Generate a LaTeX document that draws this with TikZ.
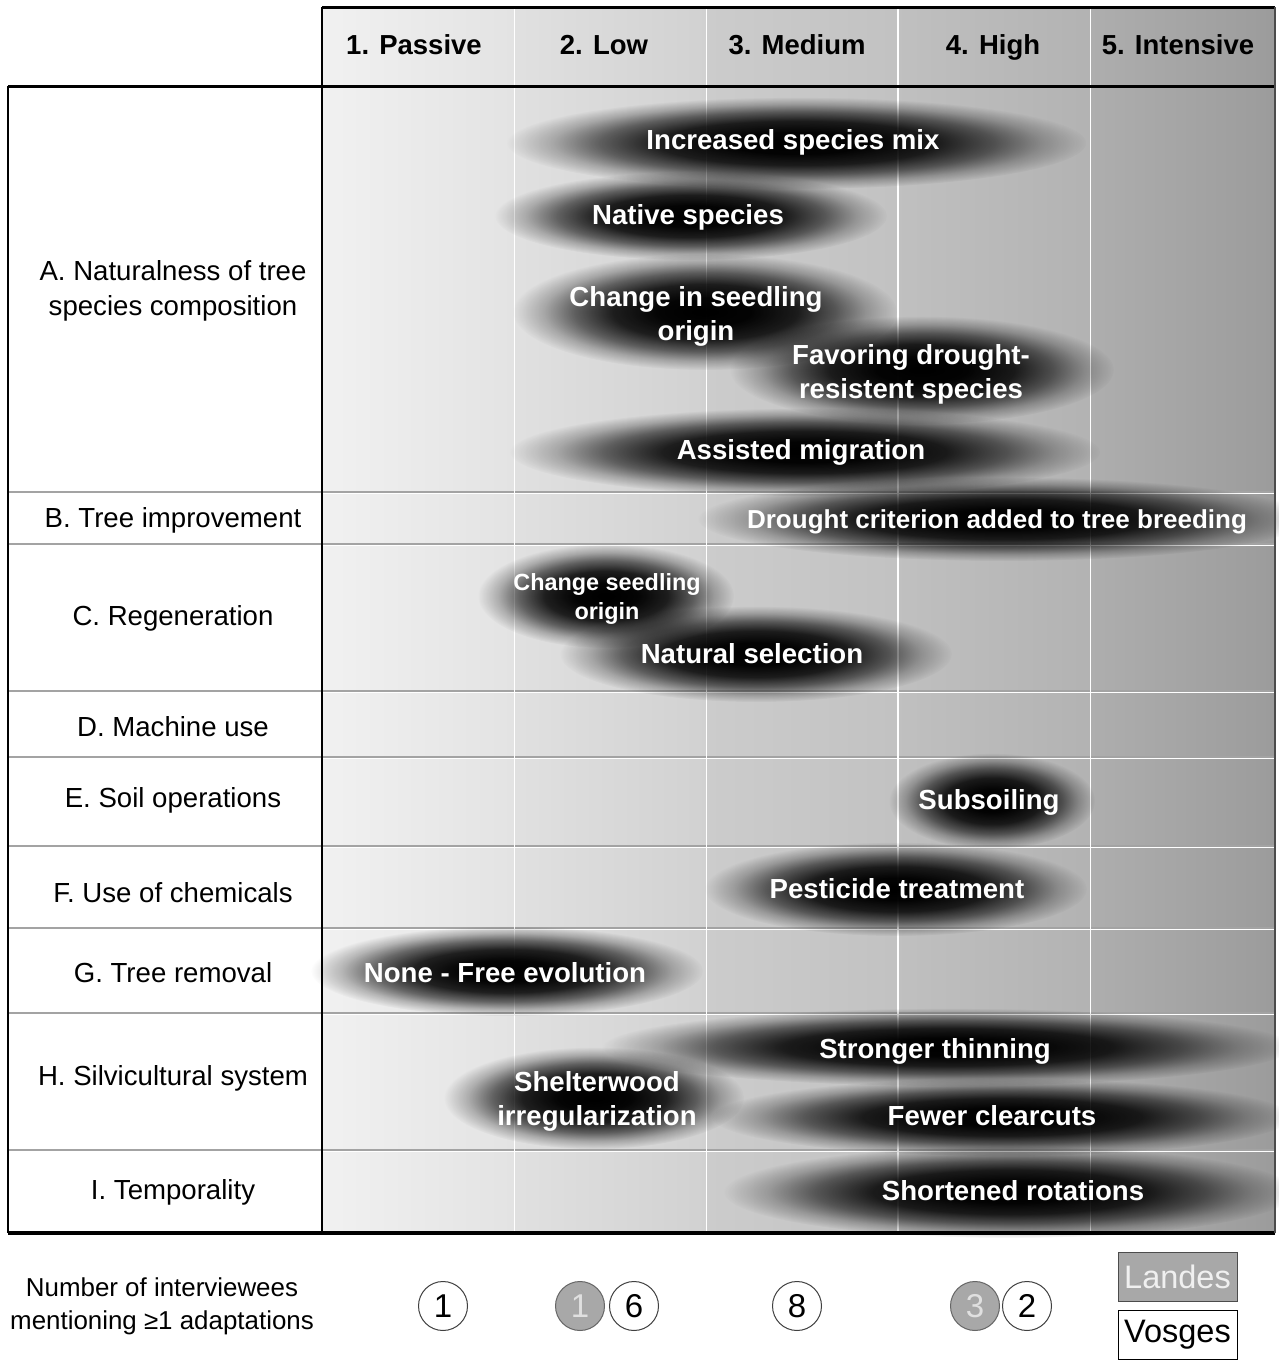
\documentclass[tikz,border=0pt]{standalone}
\usepackage{fontspec}
\setmainfont{Liberation Sans}
\usetikzlibrary{fadings}
\pgfdeclareradialshading{blobsh}{\pgfpointorigin}{color(0bp)=(white); color(6bp)=(white!98!black); color(12bp)=(white!86!black); color(17bp)=(white!56!black); color(21bp)=(white!24!black); color(25bp)=(black); color(50bp)=(black)}
\pgfdeclarefading{blobfade}{\pgfuseshading{blobsh}}
\definecolor{legendgray}{gray}{0.66}
\definecolor{rowline}{gray}{0.64}
\tikzset{
  blob/.style={fill=black, path fading=blobfade},
  hdr/.style={font=\fontsize{27.5pt}{33pt}\selectfont\bfseries, inner sep=0pt, anchor=base},
  lbl/.style={font=\fontsize{27.6pt}{35pt}\selectfont, align=center, inner sep=0pt},
  btxt/.style={text=white, font=\fontsize{27.6pt}{34pt}\selectfont\bfseries, align=center, inner sep=0pt},
  bsmall/.style={text=white, font=\fontsize{23.4pt}{29pt}\selectfont\bfseries, align=center, inner sep=0pt},
  numv/.style={circle, draw=black!75, fill=white, line width=1pt, minimum size=49pt, inner sep=0pt, font=\fontsize{33pt}{33pt}\selectfont},
  numl/.style={numv, fill=legendgray, draw=black!60, text=white!88!black},
  legbox/.style={rectangle, minimum width=119pt, minimum height=49pt, inner sep=0pt, line width=1pt, font=\fontsize{32.5pt}{32.5pt}\selectfont},
  frame/.style={line width=1.5pt, black},
  thick frame/.style={line width=3pt, black},
  rowsep/.style={line width=1.4pt, rowline},
  rowhi/.style={line width=1.2pt, white},
  colsep/.style={line width=1.5pt, white}
}
\begin{document}
\begin{tikzpicture}[x=1pt,y=-1pt]
\useasboundingbox[fill=white] (0,0) rectangle (1279,1360);
% background column shadings
\shade[left color={rgb,1:red,0.945;green,0.945;blue,0.945}, right color={rgb,1:red,0.890;green,0.890;blue,0.890}] (322,7) rectangle (514.5,1233);
\shade[left color={rgb,1:red,0.880;green,0.880;blue,0.880}, right color={rgb,1:red,0.820;green,0.820;blue,0.820}] (514.5,7) rectangle (706.5,1233);
\shade[left color={rgb,1:red,0.800;green,0.800;blue,0.800}, right color={rgb,1:red,0.760;green,0.760;blue,0.760}] (706.5,7) rectangle (898,1233);
\shade[left color={rgb,1:red,0.752;green,0.752;blue,0.752}, right color={rgb,1:red,0.700;green,0.700;blue,0.700}] (898,7) rectangle (1090.5,1233);
\shade[left color={rgb,1:red,0.682;green,0.682;blue,0.682}, right color={rgb,1:red,0.610;green,0.610;blue,0.610}] (1090.5,7) rectangle (1275,1233);
% row separators
\foreach \yy in {492,544,691,757,846,928,1013,1150}{
  \draw[rowsep] (8,\yy) -- (1275,\yy);
  \draw[rowhi] (323,\yy+1.6) -- (1274,\yy+1.6);
}
% column separators
\foreach \xx in {514.5,706.5,898,1090.5}{
  \draw[colsep] (\xx,8) -- (\xx,1232);
}
% blobs
\fill[blob] (797,143) ellipse [x radius=290pt, y radius=46pt];
\fill[blob] (691,216) ellipse [x radius=196pt, y radius=44pt];
\fill[blob] (705,312) ellipse [x radius=192pt, y radius=58pt];
\fill[blob] (922,370) ellipse [x radius=192pt, y radius=54pt];
\fill[blob] (805,452) ellipse [x radius=295pt, y radius=44pt];
\fill[blob] (1003,519) ellipse [x radius=305pt, y radius=42pt];
\fill[blob] (606,596) ellipse [x radius=128pt, y radius=52pt];
\fill[blob] (756,654) ellipse [x radius=196pt, y radius=48pt];
\fill[blob] (992,801) ellipse [x radius=103pt, y radius=48pt];
\fill[blob] (896,889) ellipse [x radius=191pt, y radius=47pt];
\fill[blob] (507,971) ellipse [x radius=196pt, y radius=45pt];
\fill[blob] (948,1047) ellipse [x radius=345pt, y radius=39pt];
\fill[blob] (594,1098) ellipse [x radius=150pt, y radius=51pt];
\fill[blob] (1002,1117) ellipse [x radius=290pt, y radius=39pt];
\fill[blob] (1010,1192) ellipse [x radius=286pt, y radius=46pt];
% frame
\draw[thick frame] (322,7) -- (1275,7);
\draw[thick frame] (8,86) -- (1275,86);
\draw[line width=3.5pt] (8,1233) -- (1275,1233);
\draw[frame] (8,86) -- (8,1233);
\draw[frame] (322,7) -- (322,1233);
\draw[line width=1.5pt, black!70] (1275,7) -- (1275,1233);
% header
\node[hdr] (h1) at (414,54) {1. Passive};
\node[hdr] (h2) at (604,54) {2. Low};
\node[hdr] (h3) at (797,54) {3. Medium};
\node[hdr] (h4) at (993,54) {4. High};
\node[hdr] (h5) at (1178,54) {5. Intensive};
% row labels
\node[lbl] (la) at (173,290.5) {A. Naturalness of tree\\species composition};
\node[lbl] (lb) at (173,520.5) {B. Tree improvement};
\node[lbl] (lc) at (173,618.5) {C. Regeneration};
\node[lbl] (ld) at (173,727) {D. Machine use};
\node[lbl] (le) at (173,800.5) {E. Soil operations};
\node[lbl] (lf) at (173,893) {F. Use of chemicals};
\node[lbl] (lg) at (173,973) {G. Tree removal};
\node[lbl] (lh) at (173,1078.5) {H. Silvicultural system};
\node[lbl] (li) at (173,1192.5) {I. Temporality};
% blob texts
\node[btxt] (t1) at (793,142) {Increased species mix};
\node[btxt] (t2) at (688,217) {Native species};
\node[btxt] (t3) at (696,316) {Change in seedling\\origin};
\node[btxt] (t4) at (911,374) {Favoring drought-\\resistent species};
\node[btxt] (t5) at (801,452) {Assisted migration};
\node[btxt, font=\fontsize{26pt}{34pt}\selectfont\bfseries] (t6) at (997,522) {Drought criterion added to tree breeding};
\node[bsmall] (t7) at (607,598.5) {Change seedling\\origin};
\node[btxt] (t8) at (752,653.5) {Natural selection};
\node[btxt] (t9) at (989,802) {Subsoiling};
\node[btxt] (t10) at (897,888.5) {Pesticide treatment};
\node[btxt] (t11) at (505,972.5) {None - Free evolution};
\node[btxt] (t12) at (935,1051) {Stronger thinning};
\node[btxt] (t13) at (597,1101) {Shelterwood\\irregularization};
\node[btxt] (t14) at (992,1115.5) {Fewer clearcuts};
\node[btxt] (t15) at (1013,1190.5) {Shortened rotations};
% bottom
\node[lbl, font=\fontsize{25.9pt}{33pt}\selectfont] (nlab) at (162,1306) {Number of interviewees\\mentioning ≥1 adaptations};
\node[numv] (c1) at (443,1306) {1};
\node[numl] (c2l) at (580,1306) {1};
\node[numv] (c2v) at (634,1306) {6};
\node[numv] (c3) at (797,1306) {8};
\node[numl] (c4l) at (975,1306) {3};
\node[numv] (c4v) at (1027,1306) {2};
\node[legbox, fill=legendgray, draw=black!70, text=white!94!black] (legL) at (1177.5,1276.5) {Landes};
\node[legbox, fill=white, draw=black] (legV) at (1177.5,1334.5) {Vosges};
\end{tikzpicture}
\end{document}
